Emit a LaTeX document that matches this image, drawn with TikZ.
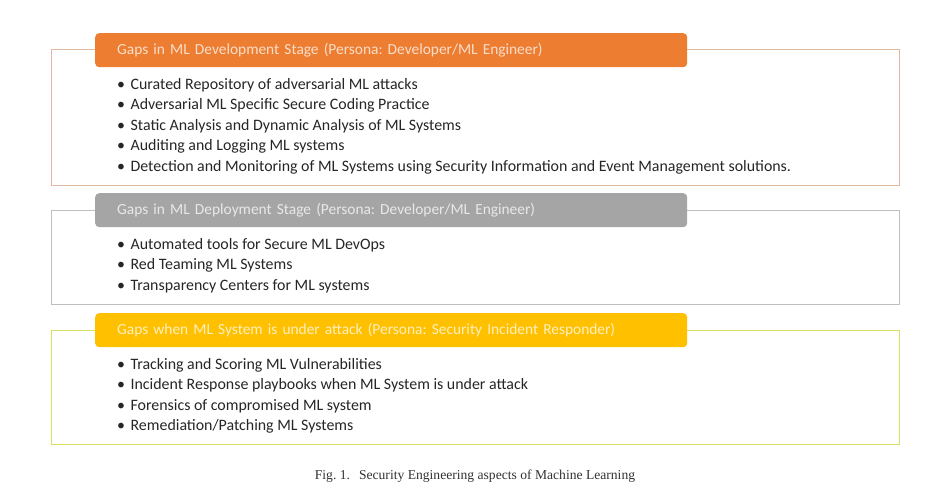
\documentclass[tikz,border=0pt]{standalone}
\usepackage{fontspec}
\setmainfont{Carlito}
\newfontfamily\captionfont{Liberation Serif}
\usetikzlibrary{positioning}
\frenchspacing
\definecolor{devorange}{HTML}{ED7D31}
\definecolor{depgray}{HTML}{A5A5A5}
\definecolor{atkyellow}{HTML}{FFC000}
\definecolor{devline}{HTML}{E0B9A3}
\definecolor{depline}{HTML}{BFBFBF}
\definecolor{atkline}{HTML}{D8E060}
\tikzset{
frame/.style={draw, line width=1.2pt, anchor=north west, minimum width=848pt, inner sep=0pt},
header/.style={rounded corners=4pt, anchor=north west, minimum height=34pt, text width=548pt,
  inner xsep=22pt, inner ysep=0pt, align=left, text=white, text opacity=0.75,
  font=\fontsize{15.4}{18}\selectfont},
item/.style={anchor=base west, inner sep=0pt, text=black!85, font=\fontsize{15.9}{18}\selectfont},
}

\begin{document}
\begin{tikzpicture}[x=1pt, y=-1pt]
    \useasboundingbox[fill=white] (0,0) rectangle (951,502);

    %development stage
    \node[frame, draw=devline, minimum height=136pt] (devframe) at (51,49) { };
    \node[header, fill=devorange] (devhead) at (95,33) {Gaps in ML Development Stage (Persona: Developer/ML Engineer)};
    \foreach \txt [count=\i] in {Curated Repository of adversarial ML attacks,
        Adversarial ML Specific Secure Coding Practice,
        Static Analysis and Dynamic Analysis of ML Systems,
        Auditing and Logging ML systems,
        Detection and Monitoring of ML Systems using Security Information and Event Management solutions.}
        \node[item] (dev\i) at (117,69+20.5*\i) {\textbullet\hspace{5.5pt}\txt};

    %deployment stage
    \node[frame, draw=depline, minimum height=94pt] (depframe) at (51,210) { };
    \node[header, fill=depgray] (dephead) at (95,193) {Gaps in ML Deployment Stage (Persona: Developer/ML Engineer)};
    \foreach \txt [count=\i] in {Automated tools for Secure ML DevOps,
        Red Teaming ML Systems,
        Transparency Centers for ML systems}
        \node[item] (dep\i) at (117,229+20.5*\i) {\textbullet\hspace{5.5pt}\txt};

    %under attack
    \node[frame, draw=atkline, minimum height=114pt] (atkframe) at (51,330) { };
    \node[header, fill=atkyellow] (atkhead) at (95,313) {Gaps when ML System is under attack (Persona: Security Incident Responder)};
    \foreach \txt [count=\i] in {Tracking and Scoring ML Vulnerabilities,
        Incident Response playbooks when ML System is under attack,
        Forensics of compromised ML system,
        Remediation/Patching ML Systems}
        \node[item] (atk\i) at (117,349+20.5*\i) {\textbullet\hspace{5.5pt}\txt};

    % caption
    \node[anchor=base, inner sep=0pt, text=black!80, font=\captionfont\fontsize{13.6}{16}\selectfont] (caption) at (475,479)
        {Fig. 1.\hspace{9pt}Security Engineering aspects of Machine Learning};

\end{tikzpicture}
\end{document}
